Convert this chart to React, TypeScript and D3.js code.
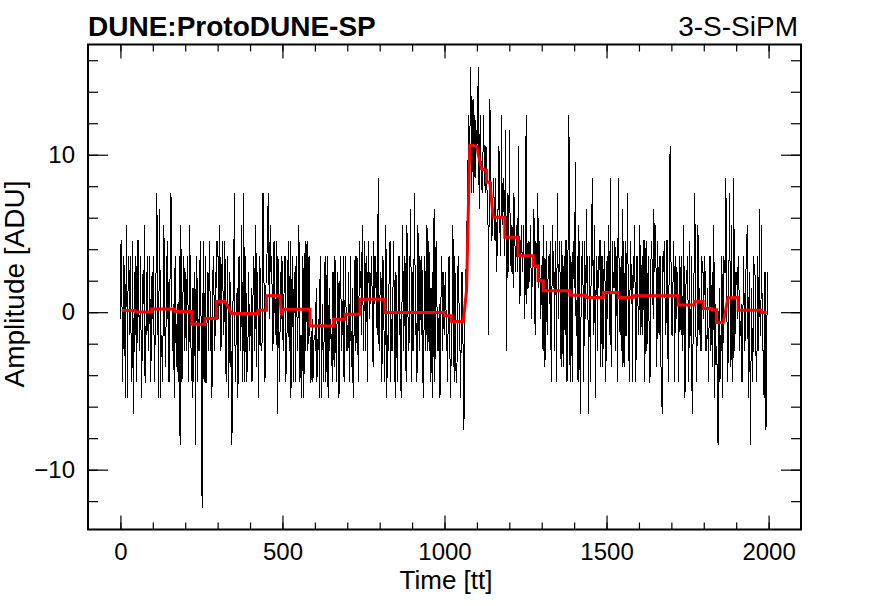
import React, {useEffect, useRef} from "react";
import * as d3 from "d3";

const width = 889
const height = 606
const font = "'Liberation Sans', Arial, Helvetica, sans-serif"

// waveform, one sample every 2 tt, integer ADU counts
// (the baseline sits 0.55 ADU below the count grid)
const sampleStep = 2
const baselineShift = 0.55
const adcCounts: number[] = [
    -1, 4, 4, -5, -3, 3, 2, -3, -6, 5, 1, -6, 3, 2, -2, 3, 0, -5, -4, 4, -7, -3, 2, -2, 3, -5, -1, 4, 4, -3, -2, 3, -3, -6, 1, 2, 0, 5, -5, -5, 2, -2, 3, -3, -2, 3, -1, -5, 1, 2, // 0
    -1, 3, -3, -5, 1, 2, 7, 4, -2, -6, 6, 3, -6, -2, -2, -5, -1, 5, 2, -3, -4, 3, -1, 4, -2, -5, 1, 2, 7, 4, -3, -3, 0, -6, 2, 3, -4, -2, 0, -5, -2, 3, -9, 5, 2, -5, -1, 2, 3, -3, // 100
    2, -2, -3, 3, 2, -5, -2, 5, 0, -3, -4, -6, 1, -5, -2, 2, -9, 3, 3, -5, -1, -3, -3, 4, 2, -6, -13, -2, 4, -5, -2, 3, -5, -5, 1, 2, -3, 4, 2, -3, -1, -6, -4, 3, 3, -3, -2, 2, 1, 4, // 200
    3, 3, -1, 5, 2, -3, -2, 4, 2, -2, -1, 4, 1, -5, -3, 3, 0, -6, -2, 2, -4, -3, -9, -5, 2, 3, 7, -5, -3, -2, 1, -6, -4, 3, 2, -3, -2, 5, -1, -5, 7, 2, -5, 3, 0, -5, -3, -2, 2, -3, // 300
    -2, -2, 1, -5, -3, 3, 3, -3, -1, 5, -4, 2, 2, -6, -2, 3, 1, -3, -3, -2, 7, 4, -1, -5, -2, 3, 3, 4, 7, 2, -1, 5, 2, 3, 1, -3, -2, 4, 1, -2, 0, 4, -7, 3, 2, -5, -3, 2, -1, 3, // 400
    2, -3, -1, 3, 3, -5, -4, -2, 1, 4, -2, -3, 4, -6, -3, 3, 0, -5, 2, 2, -5, 3, 1, -3, -1, 5, 3, -5, -2, -2, -6, 3, 2, -6, 0, 4, -3, 2, 4, -3, -2, 3, 1, -5, -5, -3, -1, -5, -3, -2, // 500
    -2, -3, 1, -5, -4, -2, -1, -6, 2, 3, -6, -3, 0, -5, -3, 2, 3, -5, -2, 3, -5, -6, 1, -3, -1, -2, -3, -5, 2, -3, -4, 3, 0, -5, -2, 2, 1, -6, -5, 3, 2, -3, -1, -2, 3, -5, -3, 3, 0, -3, // 600
    -3, -2, 2, -5, -1, 3, -4, -3, 1, -6, -2, -2, 3, -3, -2, 3, -1, -5, 0, 4, 1, 2, -2, 5, 1, -3, 0, 4, -3, 3, 2, -5, 2, 4, -1, 2, 0, 3, 2, -3, -4, 4, 0, 3, 1, 2, -2, 4, 8, -3, // 700
    -1, 2, 2, -5, -3, 3, 1, -3, -5, 5, 3, -6, -2, -3, 0, 3, 4, -5, -1, -2, -3, 4, 2, -3, -6, 2, 1, -5, -2, 3, 3, -2, -1, -6, -4, 5, 2, -3, 0, 3, -3, -5, 5, 2, -2, -3, -1, 4, 6, -5, // 800
    2, -3, -3, 3, 7, -2, -1, -5, -4, 5, 1, -3, 3, 2, -2, 3, 0, -6, -5, 3, 2, -3, -1, 5, -3, -2, 4, -3, 1, -5, -2, 2, -6, 3, 6, -5, -1, 4, 2, -3, -3, -2, 0, -6, -4, 3, 3, -3, -1, 2, // 900
    -2, 2, 1, -3, -3, -5, 2, 3, -1, -6, -4, -3, 0, 5, -2, -5, 3, -2, -5, -5, -1, 3, 2, -3, -3, -6, 0, 2, -2, -3, -8, -2, 1, 2, 3, 6, 8, 12, 11, 9, 15, 13, 7, 10, 13, 7, 9, 12, 8, 11, // 1000
    10, 11, 15, 8, 6, 12, 9, 9, 7, 8, 12, 10, 8, 7, 10, 9, 6, 6, -2, 8, 13, 10, 7, 4, 5, 7, 8, 5, 4, 8, 2, 3, 6, 6, 10, 7, 3, 4, 12, 6, 5, 8, 7, 3, 11, 5, -3, 7, 4, 2, // 1100
    11, 6, 3, 2, 5, 4, 1, 7, 6, 3, 2, 5, 4, 2, 10, 4, 0, 1, 4, 5, 2, 3, 5, 2, -1, 6, 12, 0, 3, 4, 1, 2, 4, 5, -1, 1, 3, 3, 6, 0, -2, 4, 3, 2, 7, 1, 4, 3, -1, 0, // 1200
    2, 3, -3, 5, 1, -4, 1, 4, -1, -2, 3, 3, 0, 4, -2, -5, 2, 5, 1, 2, -3, 4, 2, -5, 7, 3, -1, 4, 3, -2, -4, 4, 1, -4, 2, 3, -2, 4, 4, -5, 0, 6, 12, -2, -5, 3, 1, -5, 3, 4, // 1300
    1, 4, 9, -2, -2, 3, -5, 5, 3, -4, -7, 3, 2, 4, 0, -5, 4, 2, -1, 6, 2, 3, -7, -2, 3, -5, 1, 4, 8, 3, -2, 5, 0, -6, 3, 2, -3, 3, 1, 4, 4, -4, -1, 3, -4, -2, 2, 4, 0, -5, // 1400
    2, 3, -1, 5, 3, -2, 8, -4, -2, 4, 1, 2, 1, 4, -3, 3, 0, -5, 8, 4, -1, -2, 2, 3, -4, 6, 1, -4, 0, 4, -2, -2, 7, 3, -1, -5, 0, 4, 2, 2, -5, 3, 1, 5, 1, -5, -2, 3, 2, -2, // 1500
    -1, 5, 3, -2, 1, 3, -2, 4, 4, -5, 0, 4, -3, -2, 2, 3, -5, -5, 1, 4, 3, 2, -1, 6, 2, 3, 5, -4, -2, 4, 0, -2, 3, 3, -4, -6, -7, 3, 2, 4, 1, -2, -1, 4, 4, -5, 0, 3, 10, 4, // 1600
    1, -2, -2, 4, 3, -5, 0, 3, -1, 2, 2, -5, -1, 3, 1, -2, 3, -3, -2, 5, 0, -6, 0, 2, 2, 3, -1, -5, 4, -2, -2, 3, -7, -5, 1, 2, 7, 3, -2, -5, -1, 5, -1, -2, 1, -3, -3, 3, 2, 2, // 1700
    -1, 3, 2, -3, -3, -2, 1, -5, -2, 3, 3, -3, -1, 2, -4, 5, 2, -6, 0, -3, -3, -5, -9, -2, 1, -5, -2, -3, 3, -6, -1, 3, 2, 2, 8, 4, -2, -5, -2, 3, 7, -2, -4, 5, -3, -5, 8, 3, -3, 2, // 1800
    2, 2, -1, 3, 3, -3, -2, -2, 0, -5, -4, 3, 1, -3, -2, 2, 3, 5, -1, -6, 2, -2, -9, -3, 1, -5, -3, 3, 2, 2, -1, -5, -4, 3, 1, -3, 6, -2, -2, 5, 0, -3, -3, -6, 2, 2, -8, -3, 1, 2, // 1900
]

// red filtered waveform, vertices (time, amplitude)
const fitTime = [4, 45, 45, 96, 96, 168, 168, 220, 220, 261, 261, 297, 297, 323, 343, 425, 425, 451, 451, 492,
    497, 505, 585, 585, 657, 657, 693, 693, 739, 739, 816, 816, 1001, 1001, 1022, 1022, 1058, 1068, 1078, 1099,
    1114, 1130, 1130, 1140, 1150, 1186, 1186, 1227, 1227, 1274, 1274, 1289, 1289, 1305, 1305, 1387, 1387, 1438,
    1438, 1490, 1490, 1536, 1536, 1582, 1582, 1721, 1721, 1772, 1772, 1798, 1798, 1824, 1824, 1839, 1839, 1860,
    1875, 1906, 1906, 1978, 1978, 1994]
const fitAmplitude = [0.1, 0.1, 0.02, 0.02, 0.21, 0.21, 0.04, 0.04, -0.76, -0.76, -0.4, -0.4, 0.68, 0.68, -0.08, -0.08, 0.13, 0.13, 1.04, 1.04,
    -0.2, 0.19, 0.19, -0.87, -0.87, -0.45, -0.45, -0.13, -0.13, 0.83, 0.83, -0.02, -0.02, -0.23, -0.23, -0.59, -0.59, 1.36, 10.6, 10.55,
    9.1, 9.0, 8.26, 8.26, 6.03, 6.03, 4.76, 4.76, 3.59, 3.59, 2.95, 2.95, 2.0, 2.0, 1.36, 1.36, 1.08, 1.08,
    0.93, 0.93, 1.25, 1.25, 0.93, 0.93, 1.04, 1.04, 0.45, 0.45, 0.68, 0.68, 0.24, 0.24, 0.15, 0.15, -0.66, -0.66,
    0.93, 0.93, 0.13, 0.13, -0.02, -0.02]

const xMajorTicks = [0, 500, 1000, 1500, 2000]
const xMinorTicks = d3.range(0, 2001, 100)
const yMajorTicks = [-10, 0, 10]
const yMinorTicks = d3.range(-12, 17, 2)

const titleLeft = "DUNE:ProtoDUNE-SP"
const titleRight = "3-S-SiPM"
const xTitle = "Time [tt]"
const yTitle = "Amplitude [ADU]"

const App = () => {
    const svgRef = useRef(null)

    useEffect(() => {
        const svg = d3.select(svgRef.current)
        svg.selectAll("*").remove()

        const left = 88, right = 801, top = 44.5, bottom = 529.5

        const xScale = d3.scaleLinear().domain([-100, 2100]).range([left, right])
        const yScale = d3.scaleLinear().domain([-13.8, 17]).range([bottom, top])

        svg.append("defs").append("clipPath").attr("id", "frame-clip")
            .append("rect")
            .attr("x", left).attr("y", top)
            .attr("width", right - left).attr("height", bottom - top)

        const plot = svg.append("g").attr("clip-path", "url(#frame-clip)")

        // raw waveform, drawn without anti-aliasing like the ROOT canvas
        const rawLine = d3.line<number>()
            .x((d, i) => xScale(i * sampleStep))
            .y(d => yScale(d + baselineShift))

        plot.append("path")
            .datum(adcCounts)
            .attr("fill", "none")
            .attr("stroke", "#000")
            .attr("stroke-width", 1)
            .attr("shape-rendering", "crispEdges")
            .attr("d", rawLine)

        // filtered waveform
        const fitLine = d3.line<number>()
            .x(d => xScale(d))
            .y((d, i) => yScale(fitAmplitude[i]))

        plot.append("path")
            .datum(fitTime)
            .attr("fill", "none")
            .attr("stroke", "#ff0000")
            .attr("stroke-width", 3)
            .attr("d", fitLine)

        // axes, ROOT style ticks pointing inwards on all four sides
        const drawAxis = (axis: any, transform: string) => {
            const g = svg.append("g").attr("transform", transform).call(axis)
            g.attr("font-family", font).attr("font-size", 24)
            g.select(".domain").remove()
            g.selectAll("line").attr("stroke", "#000").attr("stroke-width", 1.2)
            g.selectAll("text").attr("fill", "#000")
            return g
        }

        drawAxis(d3.axisBottom(xScale).tickValues(xMinorTicks).tickSize(-7).tickFormat(() => ""), `translate(0,${bottom})`)
        drawAxis(d3.axisBottom(xScale).tickValues(xMajorTicks).tickSize(-14).tickPadding(13).tickFormat(d3.format("d")), `translate(0,${bottom})`)
        drawAxis(d3.axisTop(xScale).tickValues(xMinorTicks).tickSize(-7).tickFormat(() => ""), `translate(0,${top})`)
        drawAxis(d3.axisTop(xScale).tickValues(xMajorTicks).tickSize(-14).tickFormat(() => ""), `translate(0,${top})`)

        drawAxis(d3.axisLeft(yScale).tickValues(yMinorTicks).tickSize(-10).tickFormat(() => ""), `translate(${left},0)`)
        drawAxis(d3.axisLeft(yScale).tickValues(yMajorTicks).tickSize(-20).tickPadding(13).tickFormat(d3.format("d")), `translate(${left},0)`)
        drawAxis(d3.axisRight(yScale).tickValues(yMinorTicks).tickSize(-10).tickFormat(() => ""), `translate(${right},0)`)
        drawAxis(d3.axisRight(yScale).tickValues(yMajorTicks).tickSize(-20).tickFormat(() => ""), `translate(${right},0)`)

        // frame
        svg.append("rect")
            .attr("x", left).attr("y", top)
            .attr("width", right - left).attr("height", bottom - top)
            .attr("fill", "none")
            .attr("stroke", "#000")
            .attr("stroke-width", 2)

        // titles
        svg.append("text")
            .attr("x", left).attr("y", 36)
            .attr("font-family", font).attr("font-size", 28).attr("font-weight", "bold")
            .text(titleLeft)

        svg.append("text")
            .attr("x", 798).attr("y", 36)
            .attr("text-anchor", "end")
            .attr("font-family", font).attr("font-size", 28)
            .text(titleRight)

        svg.append("text")
            .attr("x", 446).attr("y", 589)
            .attr("text-anchor", "middle")
            .attr("font-family", font).attr("font-size", 26)
            .text(xTitle)

        svg.append("text")
            .attr("transform", "translate(24,284) rotate(-90)")
            .attr("text-anchor", "middle")
            .attr("font-family", font).attr("font-size", 28)
            .text(yTitle)
    }, [])

    return (
        <svg ref={svgRef} width={width} height={height}
             style={{position: "absolute", left: 0, top: 0, background: "#fff"}}/>
    )
}

export default App
